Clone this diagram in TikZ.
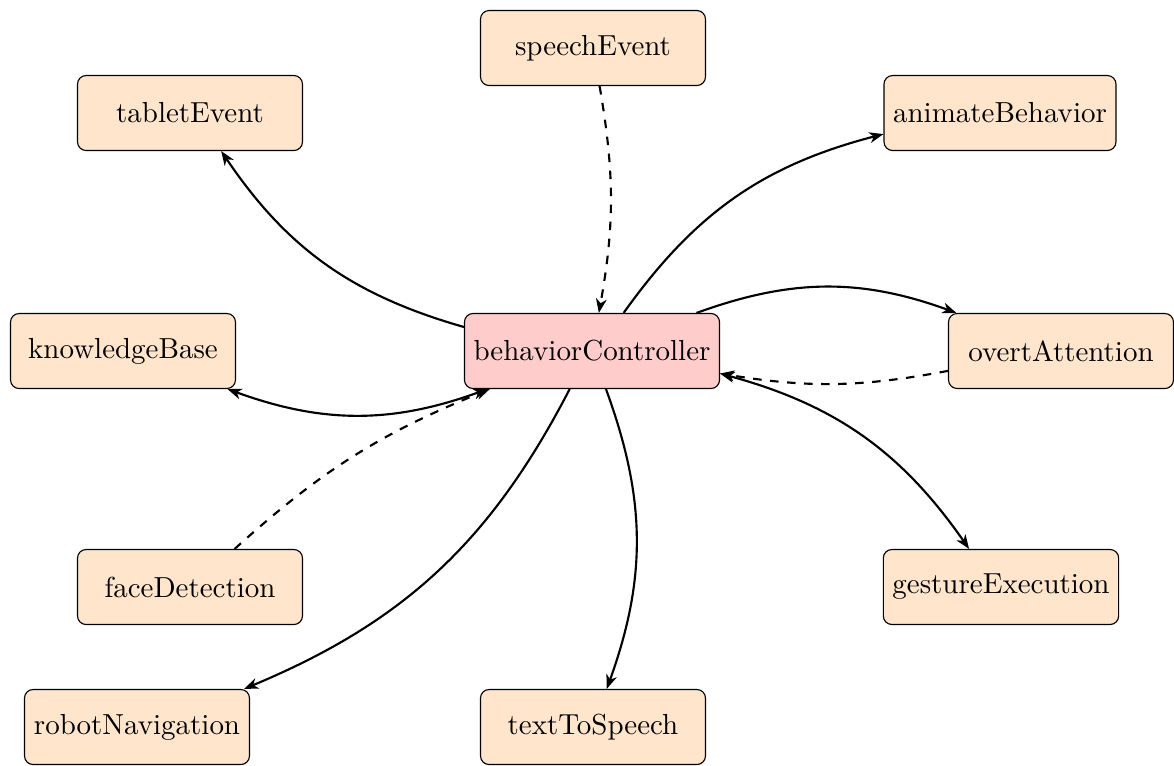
\documentclass[tikz,border=0pt]{standalone}
\usetikzlibrary{arrows.meta}
\begin{document}
\begin{tikzpicture}[x=0.3521pt,y=0.3521pt,
  tip/.tip={Stealth[length=5pt,width=3.8pt,inset=1.5pt]},
  box/.style={draw=black, rounded corners=3pt, fill=orange!20, minimum width=79.2pt, minimum height=26.4pt, inner sep=3.2pt, font=\fontsize{10.2pt}{12pt}\selectfont},
  hub/.style={box, fill=red!20},
  edge/.style={line width=0.75pt, -tip},
  dedge/.style={edge, dashed, bend left=10},
  sedge/.style={edge, bend left=20},
  both/.style={tip-tip}
]
\useasboundingbox (0,0) rectangle (1174,-765);
\node[hub] (bc) at (592,-351) {behaviorController};
\node[box] (speech) at (593,-48) {speechEvent};
\node[box] (tablet) at (190,-113) {tabletEvent};
\node[box] (anim) at (1000,-113) {animateBehavior};
\node[box] (kb) at (123,-351) {knowledgeBase};
\node[box] (overt) at (1061,-351) {overtAttention};
\node[box] (face) at (190,-587) {faceDetection};
\node[box] (gest) at (1001,-587) {gestureExecution};
\node[box] (robot) at (137,-727) {robotNavigation};
\node[box] (tts) at (593,-727) {textToSpeech};

\draw[sedge] (bc) to (tablet);
\draw[dedge] (speech) to (bc);
\draw[sedge] (bc) to (anim);
\draw[sedge, both] (bc) to (kb);
\draw[dedge] (face) to (bc);
\draw[sedge] (bc) to (overt);
\draw[dedge] (overt) to (bc);
\draw[sedge, both] (bc) to (gest);
\draw[sedge] (bc) to (robot);
\draw[sedge] (bc) to (tts);
\end{tikzpicture}
\end{document}
